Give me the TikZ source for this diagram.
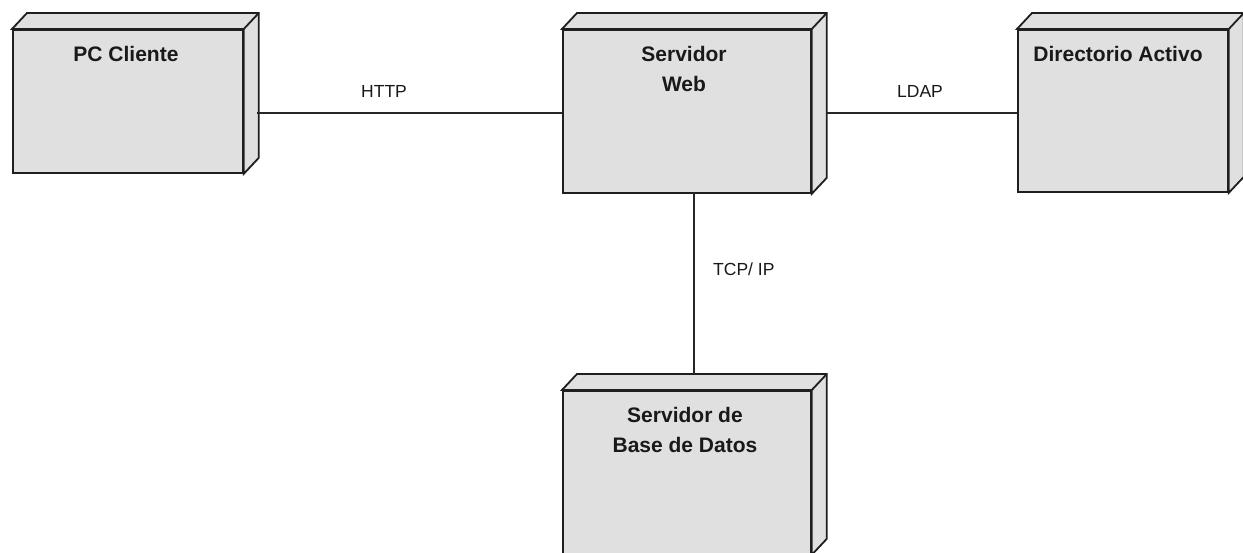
\documentclass[tikz,border=0pt]{standalone}
\usepackage{fontspec}
\setmainfont{Liberation Sans}
\begin{document}
\begin{tikzpicture}[x=1pt,y=-1pt,
  nodebox/.style={draw=black!88, line width=1.8pt, fill=boxgray, rectangle, inner sep=0pt, anchor=north west, line join=miter},
  face/.style={draw=black!88, line width=1.8pt, fill=boxgray, line join=miter},
  title/.style={font=\bfseries\fontsize{21}{30}\selectfont, inner sep=0pt, anchor=base, text=black!90},
  conn/.style={draw=black!85, line width=1.4pt},
  lbl/.style={font=\fontsize{17.5}{20}\selectfont, inner sep=0pt, anchor=base west, text=black!90}]
\definecolor{boxgray}{HTML}{E0E0E0}
\fill[white] (0,0) rectangle (1243,552);
\useasboundingbox (0,0) rectangle (1243,552);
\newcommand{\depthfaces}[1]{%
  \filldraw[face] (#1.north west) -- ++(15,-16) -- ([shift={(15,-16)}]#1.north east) -- ([shift={(15,-16)}]#1.south east) -- (#1.south east) -- (#1.north east) -- cycle;
  \draw[face, fill=none] (#1.north east) -- ++(15,-16);}
% nodes
\node[nodebox, minimum width=230, minimum height=143] (pc) at (12,29) {};
\depthfaces{pc}
\node[nodebox, minimum width=248, minimum height=163] (web) at (562,29) {};
\depthfaces{web}
\node[nodebox, minimum width=210, minimum height=162] (ad) at (1017,29) {};
\depthfaces{ad}
\node[nodebox, minimum width=248, minimum height=163] (db) at (562,390) {};
\depthfaces{db}
% titles
\node[title] (pct) at (126,61) {PC Cliente};
\node[title] (webt1) at (684,61) {Servidor};
\node[title] (webt2) at (684,91) {Web};
\node[title] (adt) at (1118,61) {Directorio Activo};
\node[title] (dbt1) at (685,422) {Servidor de};
\node[title] (dbt2) at (685,452) {Base de Datos};
% connectors
\coordinate (pcr) at (257,113);
\draw[conn] (pcr) -- (web.west |- pcr);
\coordinate (webr) at (826,113);
\draw[conn] (webr) -- (ad.west |- webr);
\coordinate (webb) at (694,192);
\draw[conn] (webb) -- (694,374) coordinate (dbtop);
% labels
\node[lbl] (http) at (361,97) {HTTP};
\node[lbl] (ldap) at (897,97) {LDAP};
\node[lbl] (tcp) at (713,275) {TCP/ IP};
\end{tikzpicture}
\end{document}
